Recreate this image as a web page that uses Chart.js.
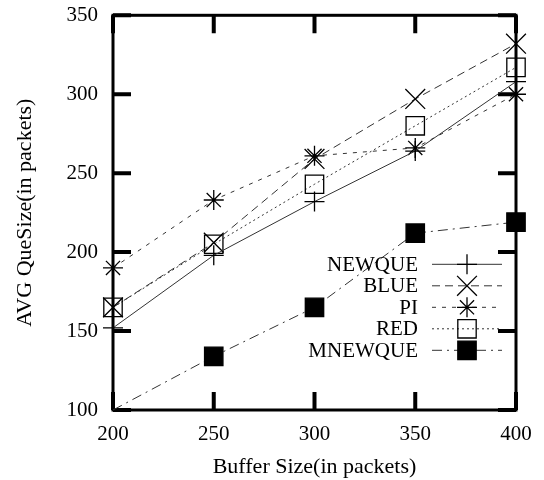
<!DOCTYPE html>
<html>
<head>
<meta charset="utf-8">
<script src="https://cdn.jsdelivr.net/npm/chart.js@4.4.0/dist/chart.umd.min.js"></script>
<style>
html, body { margin: 0; padding: 0; background: #fff; }
</style>
</head>
<body>
<canvas id="chart" width="544" height="480"></canvas>
<script>
// values
const bufferSizes = [200, 250, 300, 350, 400];
const newque  = [152, 198, 232, 264, 308];
const blue    = [165, 206, 259, 297, 332];
const pi      = [190, 233, 261, 266, 300];
const red     = [165, 205, 243, 280, 317];
const mnewque = [100, 134, 165, 212, 219];
const xTicks = [200, 250, 300, 350, 400];
const yTicks = [100, 150, 200, 250, 300, 350];

const serif = "'Liberation Serif', 'Times New Roman', serif";
Chart.defaults.font.family = serif;
Chart.defaults.color = '#000';

function pts(vals) {
    return bufferSizes.map((b, i) => ({x: b, y: vals[i]}));
}

const series = [
    {label: 'NEWQUE',  vals: newque,  style: 'cross',    r: 10, dash: [],            fill: 'rgba(0,0,0,0)'},
    {label: 'BLUE',    vals: blue,    style: 'crossRot', r: 14, dash: [8, 5],        fill: 'rgba(0,0,0,0)'},
    {label: 'PI',      vals: pi,      style: 'star',     r: 10, dash: [4, 6],        fill: 'rgba(0,0,0,0)'},
    {label: 'RED',     vals: red,     style: 'rect',     r: 13, dash: [2, 3],        fill: 'rgba(0,0,0,0)'},
    {label: 'MNEWQUE', vals: mnewque, style: 'rect',     r: 13, dash: [10, 5, 2, 5], fill: '#000'}
];

const datasets = series.map(s => ({
    label: s.label,
    data: pts(s.vals),
    borderColor: '#333',
    borderWidth: 1,
    borderDash: s.dash,
    pointStyle: s.style,
    pointRadius: s.label === 'MNEWQUE' ? [0, s.r, s.r, s.r, s.r] : s.r,
    pointBorderColor: '#000',
    pointBackgroundColor: s.fill,
    pointBorderWidth: 1.3,
    tension: 0,
    clip: false
}));

// gnuplot style frame with inward ticks on all sides
const framePlugin = {
    id: 'frame',
    beforeDatasetsDraw(chart) {
        const ctx = chart.ctx, a = chart.chartArea;
        const x = chart.scales.x, y = chart.scales.y;
        ctx.save();
        ctx.strokeStyle = '#000';
        ctx.lineWidth = 4;
        ctx.beginPath();
        xTicks.forEach(v => {
            const px = x.getPixelForValue(v);
            ctx.moveTo(px, a.bottom); ctx.lineTo(px, a.bottom - 18);
            ctx.moveTo(px, a.top); ctx.lineTo(px, a.top + 18);
        });
        yTicks.forEach(v => {
            const py = y.getPixelForValue(v);
            ctx.moveTo(a.left, py); ctx.lineTo(a.left + 18, py);
            ctx.moveTo(a.right, py); ctx.lineTo(a.right - 18, py);
        });
        ctx.stroke();
        ctx.lineWidth = 3;
        ctx.strokeRect(a.left, a.top, a.right - a.left, a.bottom - a.top);
        ctx.restore();
    }
};

// legend inside the plot: text on the left, sample on the right
const keyPlugin = {
    id: 'key',
    afterDraw(chart) {
        const ctx = chart.ctx, a = chart.chartArea;
        const textX = a.right - 98, lineL = a.right - 84, lineR = a.right - 14, mx = a.right - 49;
        ctx.save();
        ctx.font = '21px ' + serif;
        ctx.textAlign = 'right';
        ctx.textBaseline = 'middle';
        series.forEach((s, i) => {
            const yy = a.top + 249 + i * 21.5;
            ctx.fillStyle = '#000';
            ctx.fillText(s.label, textX, yy + 1);
            ctx.strokeStyle = '#333';
            ctx.lineWidth = 1;
            ctx.setLineDash(s.dash);
            ctx.beginPath();
            ctx.moveTo(lineL, yy); ctx.lineTo(lineR, yy);
            ctx.stroke();
            ctx.setLineDash([]);
            ctx.strokeStyle = '#000';
            ctx.fillStyle = s.fill;
            ctx.lineWidth = 1.3;
            Chart.helpers.drawPoint(ctx, {pointStyle: s.style, radius: s.r, rotation: 0, borderWidth: 1.3}, mx, yy);
        });
        ctx.restore();
    }
};

new Chart(document.getElementById('chart'), {
    type: 'line',
    data: {datasets: datasets},
    options: {
        responsive: false,
        animation: false,
        layout: {padding: {left: 0, right: 28, top: 12, bottom: 0}},
        plugins: {legend: {display: false}, tooltip: {enabled: false}},
        scales: {
            x: {
                type: 'linear',
                min: 200, max: 400,
                afterFit: (s) => { s.height = 70; s.paddingLeft = 0; s.paddingRight = 0; },
                ticks: {stepSize: 50, padding: 12, font: {size: 21}},
                grid: {display: false, drawTicks: false},
                border: {display: false},
                title: {display: true, text: 'Buffer Size(in packets)', font: {size: 22}, padding: {top: 4, bottom: 0}}
            },
            y: {
                min: 100, max: 350,
                afterFit: (s) => { s.width = 113; s.paddingTop = 0; s.paddingBottom = 0; },
                ticks: {stepSize: 50, padding: 15, font: {size: 21}},
                grid: {display: false, drawTicks: false},
                border: {display: false},
                title: {display: true, text: 'AVG QueSize(in packets)', font: {size: 22}, padding: {top: 12, bottom: 4}}
            }
        }
    },
    plugins: [framePlugin, keyPlugin]
});
</script>
</body>
</html>
